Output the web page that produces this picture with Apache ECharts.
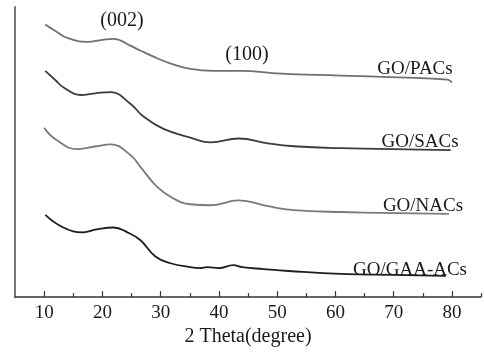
<!DOCTYPE html>
<html>
<head>
<meta charset="utf-8">
<script src="https://cdn.jsdelivr.net/npm/echarts@6/dist/echarts.min.js"></script>
<style>
  html, body { margin: 0; padding: 0; background: #fff; }
  #xrd { width: 484px; height: 352px; }
</style>
</head>
<body>
<div id="xrd"></div>
<script>
// 2 theta positions and offset intensities (arbitrary units)
var pacTheta = [10.2, 12, 14, 17.4, 20, 21.9, 24.8, 26.5, 29.4, 32, 35.1, 39.1, 43.7, 50.6, 60.9, 79.3, 80];
var pacValue = [282, 275, 268, 264, 266, 267, 260, 255, 247, 241, 236, 234, 234, 231, 229, 225, 222];

var sacTheta = [10.2, 12, 13.3, 16.2, 19, 21.4, 24.8, 27.0, 30.5, 35.1, 38.6, 43.4, 48.4, 52.8, 60.9, 79.8];
var sacValue = [234, 224, 217, 209, 211, 212, 200, 187, 174, 165, 160, 164, 159, 156, 154, 152];

var nacTheta = [10, 12, 15.7, 19, 21.4, 24.8, 26.5, 29.4, 32.2, 35.1, 38.6, 43.4, 48.4, 52.8, 60.9, 79.5];
var nacValue = [175, 163, 153, 156, 158, 147, 135, 114, 102, 96, 95, 100, 94, 90, 88, 86];

var gaaTheta = [10.2, 13.3, 16.7, 19, 21.9, 24.3, 26.5, 29.1, 31.7, 35.1, 36.8, 38, 40, 42.5, 44, 47.7, 52, 60.9, 70, 79];
var gaaValue = [85, 72, 67, 70, 72, 67, 59, 42, 35, 31, 30, 31, 30, 33, 31, 29, 27, 24, 23, 22];

var majorTicks = [10, 20, 30, 40, 50, 60, 70, 80];
var minorTicks = [15, 25, 35, 45, 55, 65, 75, 85];

function pairs(xs, ys) {
  return xs.map(function (x, i) { return [x, ys[i]]; });
}

var chartDom = document.getElementById('xrd');
var myChart = echarts.init(chartDom);
var font = 'Liberation Serif';

function line(name, xs, ys, color) {
  return {
    name: name,
    type: 'line',
    data: pairs(xs, ys),
    smooth: 0.45,
    showSymbol: false,
    lineStyle: { color: color, width: 1.8 },
    animation: false
  };
}

function note(text, x, y, size) {
  return {
    type: 'text',
    x: x,
    y: y,
    style: {
      text: text,
      font: size + 'px "' + font + '"',
      fill: '#1a1a1a',
      align: 'center',
      verticalAlign: 'middle'
    }
  };
}

var option = {
  backgroundColor: '#fff',
  grid: { left: 15, right: 3, top: 7, bottom: 45 },
  xAxis: [
    {
      type: 'value',
      min: 5,
      max: 85,
      name: '2 Theta(degree)',
      nameLocation: 'middle',
      nameGap: 23,
      nameTextStyle: { fontFamily: font, fontSize: 20, color: '#1a1a1a' },
      axisLine: { lineStyle: { color: '#333', width: 1.5 } },
      axisTick: { inside: true, length: 6, customValues: majorTicks, lineStyle: { color: '#333', width: 1.2 } },
      axisLabel: { customValues: majorTicks, fontFamily: font, fontSize: 19, color: '#1a1a1a', margin: 6 },
      splitLine: { show: false }
    },
    {
      type: 'value',
      min: 5,
      max: 85,
      position: 'bottom',
      axisLine: { show: false },
      axisTick: { inside: true, length: 4, customValues: minorTicks, lineStyle: { color: '#333', width: 1.2 } },
      axisLabel: { show: false },
      splitLine: { show: false }
    }
  ],
  yAxis: {
    type: 'value',
    min: 0,
    max: 300,
    axisLine: { show: true, lineStyle: { color: '#777', width: 2 } },
    axisTick: { show: false },
    axisLabel: { show: false },
    splitLine: { show: false }
  },
  series: [
    line('GO/PACs', pacTheta, pacValue, '#707070'),
    line('GO/SACs', sacTheta, sacValue, '#3c3c3c'),
    line('GO/NACs', nacTheta, nacValue, '#7a7a7a'),
    line('GO/GAA-ACs', gaaTheta, gaaValue, '#1e1e1e')
  ],
  graphic: [
    note('(002)', 122, 21, 20),
    note('(100)', 247, 55, 20),
    note('GO/PACs', 415, 69, 19),
    note('GO/SACs', 420, 142, 19),
    note('GO/NACs', 423, 206, 19),
    note('GO/GAA-ACs', 410, 270, 19)
  ]
};

option && myChart.setOption(option);
window.addEventListener('resize', function () {
  myChart.resize();
});
</script>
</body>
</html>
